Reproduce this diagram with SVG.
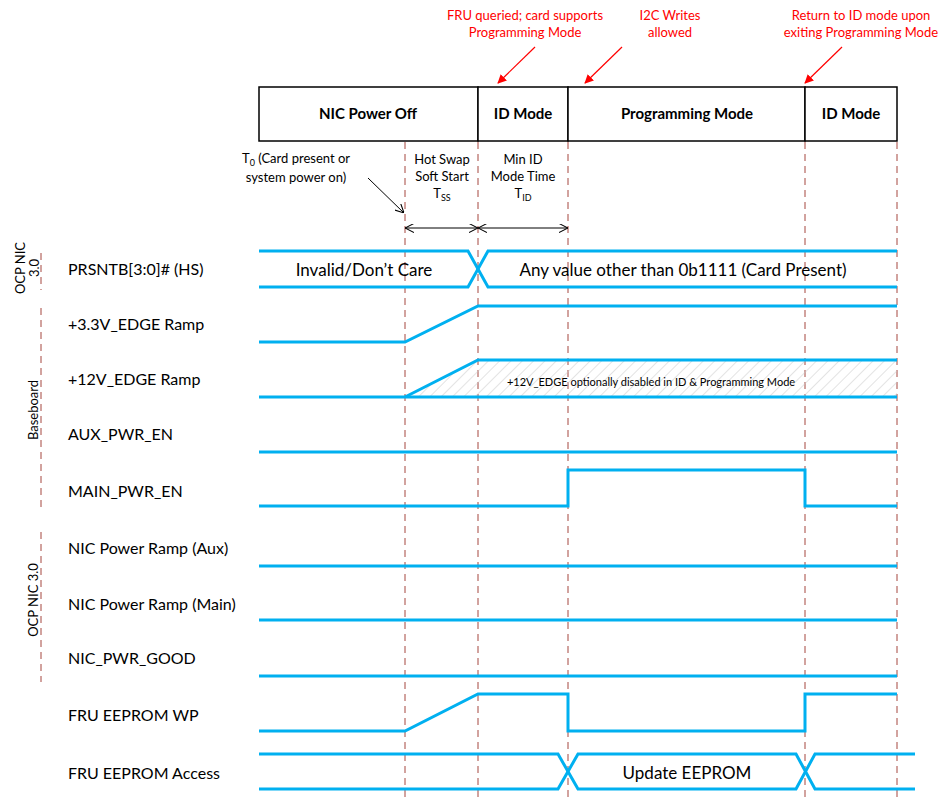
<svg xmlns="http://www.w3.org/2000/svg" width="941" height="797" viewBox="0 0 941 797">
<defs>
<style>
.t{font-family:Lato,"Noto Sans",sans-serif;fill:#000}
.lbl{font-size:16px}
.hdr{font-size:15px;font-weight:bold;text-anchor:middle}
.red{font-size:13px;fill:#ff0000;text-anchor:middle}
.ann{font-size:13px;text-anchor:middle}
.side{font-size:13px;text-anchor:middle}
.sig{fill:none;stroke:#00b0f0;stroke-width:3;stroke-linejoin:miter}
.dash{stroke:#a5463f;stroke-width:1;stroke-dasharray:7,5;fill:none}
.box{fill:#fff;stroke:#000;stroke-width:1.5}
.blk{stroke:#000;stroke-width:1;fill:none}
</style>
<marker id="ra" viewBox="0 0 10 10" refX="9" refY="5" markerWidth="9" markerHeight="9" orient="auto" markerUnits="userSpaceOnUse">
<path d="M0,0 L10,5 L0,10 z" fill="#ff0000"/>
</marker>
<marker id="oa" viewBox="0 0 10 10" refX="10" refY="5" markerWidth="9" markerHeight="9" orient="auto" markerUnits="userSpaceOnUse">
<path d="M0,0 L10,5 L0,10" fill="none" stroke="#000" stroke-width="1.2"/>
</marker>
<pattern id="hatch" patternUnits="userSpaceOnUse" width="8" height="8" patternTransform="rotate(45)">
<line x1="0" y1="0" x2="0" y2="8" stroke="#c8c8c8" stroke-width="1"/>
</pattern>
</defs>
<rect width="941" height="797" fill="#fff"/>

<g id="phase-header">
<rect class="box" x="259" y="87" width="219" height="54"/>
<rect class="box" x="478" y="87" width="90" height="54"/>
<rect class="box" x="568" y="87" width="237" height="54"/>
<rect class="box" x="805" y="87" width="92" height="54"/>
<text class="t hdr" x="368" y="119">NIC Power Off</text>
<text class="t hdr" x="523" y="119">ID Mode</text>
<text class="t hdr" x="687" y="119">Programming Mode</text>
<text class="t hdr" x="851" y="119">ID Mode</text>
</g>

<g id="guides">
<line class="dash" x1="405" y1="142" x2="405" y2="797"/>
<line class="dash" x1="478" y1="142" x2="478" y2="797"/>
<line class="dash" x1="568" y1="142" x2="568" y2="797"/>
<line class="dash" x1="805" y1="142" x2="805" y2="797"/>
<line class="dash" x1="897" y1="142" x2="897" y2="797"/>
<line class="dash" x1="41" y1="253" x2="41" y2="290"/>
<line class="dash" x1="41" y1="308" x2="41" y2="512"/>
<line class="dash" x1="41" y1="532" x2="41" y2="682"/>
</g>

<g id="notes">
<text class="t red" x="525" y="20">FRU queried; card supports</text>
<text class="t red" x="525" y="37">Programming Mode</text>
<text class="t red" x="670" y="20">I2C Writes</text>
<text class="t red" x="670" y="37">allowed</text>
<text class="t red" x="861" y="20">Return to ID mode upon</text>
<text class="t red" x="861" y="37">exiting Programming Mode</text>
<text class="t ann" x="296" y="163">T<tspan font-size="9" dy="3">0</tspan><tspan dy="-3"> (Card present or</tspan></text>
<text class="t ann" x="296" y="182">system power on)</text>
<text class="t ann" x="442" y="164">Hot Swap</text>
<text class="t ann" x="442" y="181">Soft Start</text>
<text class="t ann" x="442" y="198">T<tspan font-size="9" dy="3">SS</tspan></text>
<text class="t ann" x="523" y="164">Min ID</text>
<text class="t ann" x="523" y="181">Mode Time</text>
<text class="t ann" x="523" y="198">T<tspan font-size="9" dy="3">ID</tspan></text>
</g>

<g id="connectors">
<line x1="535" y1="47" x2="498" y2="83" stroke="#ff0000" stroke-width="1.2" marker-end="url(#ra)"/>
<line x1="622" y1="47" x2="585" y2="83" stroke="#ff0000" stroke-width="1.2" marker-end="url(#ra)"/>
<line x1="842" y1="47" x2="805" y2="83" stroke="#ff0000" stroke-width="1.2" marker-end="url(#ra)"/>
<line class="blk" x1="368" y1="178" x2="404" y2="213" marker-end="url(#oa)"/>
<line class="blk" x1="441" y1="228" x2="405" y2="228" marker-end="url(#oa)"/>
<line class="blk" x1="441" y1="228" x2="478" y2="228" marker-end="url(#oa)"/>
<line class="blk" x1="523" y1="228" x2="478" y2="228" marker-end="url(#oa)"/>
<line class="blk" x1="523" y1="228" x2="568" y2="228" marker-end="url(#oa)"/>
</g>

<g id="side-labels">
<text class="t side" transform="translate(25,268) rotate(-90)">OCP NIC</text>
<text class="t side" transform="translate(39,268) rotate(-90)">3.0</text>
<text class="t side" transform="translate(38,410) rotate(-90)">Baseboard</text>
<text class="t side" transform="translate(38,600) rotate(-90)">OCP NIC 3.0</text>
</g>

<g id="signal-labels">
<text class="t lbl" x="68" y="275">PRSNTB[3:0]# (HS)</text>
<text class="t lbl" x="68" y="330">+3.3V_EDGE Ramp</text>
<text class="t lbl" x="68" y="385">+12V_EDGE Ramp</text>
<text class="t lbl" x="68" y="440">AUX_PWR_EN</text>
<text class="t lbl" x="68" y="497">MAIN_PWR_EN</text>
<text class="t lbl" x="68" y="554">NIC Power Ramp (Aux)</text>
<text class="t lbl" x="68" y="610">NIC Power Ramp (Main)</text>
<text class="t lbl" x="68" y="664">NIC_PWR_GOOD</text>
<text class="t lbl" x="68" y="721">FRU EEPROM WP</text>
<text class="t lbl" x="68" y="779">FRU EEPROM Access</text>
</g>

<g id="sig-prsntb">
<polyline class="sig" points="259,251 468,251 488,287 897,287"/>
<polyline class="sig" points="259,287 468,287 488,251 897,251"/>
<text class="t" x="364" y="276" font-size="17" text-anchor="middle">Invalid/Don’t Care</text>
<text class="t" x="683" y="276" font-size="17" text-anchor="middle">Any value other than 0b1111 (Card Present)</text>
</g>

<g id="sig-3v3">
<polyline class="sig" points="259,342 405,342 478,306 897,306"/>
</g>

<g id="sig-12v">
<polygon points="405,397 478,360 897,360 897,397" fill="url(#hatch)"/>
<polyline class="sig" points="405,397 478,360 897,360"/>
<line class="sig" x1="259" y1="397" x2="897" y2="397"/>
<text class="t" x="651" y="386" font-size="11" text-anchor="middle">+12V_EDGE optionally disabled in ID &amp; Programming Mode</text>
</g>

<g id="sig-aux-pwr-en">
<line class="sig" x1="259" y1="452" x2="897" y2="452"/>
</g>

<g id="sig-main-pwr-en">
<polyline class="sig" points="259,506 568,506 568,470 805,470 805,506 897,506"/>
</g>

<g id="sig-nic-aux">
<line class="sig" x1="259" y1="566" x2="897" y2="566"/>
</g>

<g id="sig-nic-main">
<line class="sig" x1="259" y1="620" x2="897" y2="620"/>
</g>

<g id="sig-pwr-good">
<line class="sig" x1="259" y1="676" x2="897" y2="676"/>
</g>

<g id="sig-wp">
<polyline class="sig" points="259,731 405,731 478,694 568,694 568,731 805,731 805,694 897,694"/>
</g>

<g id="sig-access">
<polyline class="sig" points="259,754 558,754 578,789 796,789 815,754 915,754"/>
<polyline class="sig" points="259,789 558,789 578,754 796,754 815,789 915,789"/>
<text class="t" x="687" y="779" font-size="17" text-anchor="middle">Update EEPROM</text>
</g>
</svg>
